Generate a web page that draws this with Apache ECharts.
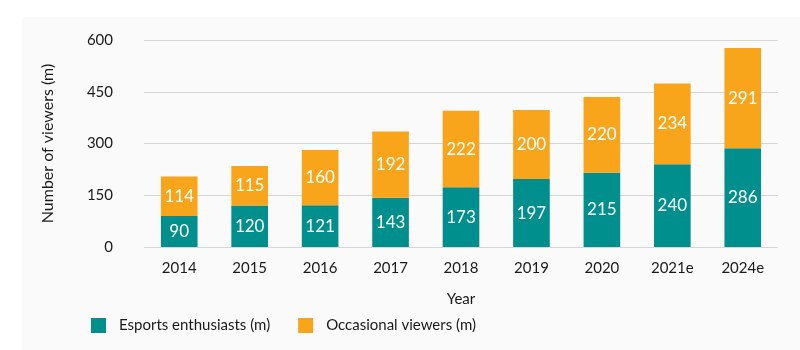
<!DOCTYPE html>
<html>
<head>
<meta charset="utf-8">
<script src="https://cdn.jsdelivr.net/npm/echarts@6/dist/echarts.min.js"></script>
<style>
  html, body { margin: 0; padding: 0; background: #fff; }
  #chart { width: 800px; height: 350px; }
</style>
</head>
<body>
<div id="chart"></div>
<script>
const years = ["2014", "2015", "2016", "2017", "2018", "2019", "2020", "2021e", "2024e"];
const enthusiasts = [90, 120, 121, 143, 173, 197, 215, 240, 286];
const occasional = [114, 115, 160, 192, 222, 200, 220, 234, 291];
const yTicks = [0, 150, 300, 450, 600];

const teal = "#008f8c";
const orange = "#f9a51b";
const font = "Lato";
const ink = "#1a1a1a";

const chart = echarts.init(document.getElementById("chart"), null, { renderer: "canvas" });

const barLabel = {
  show: true,
  position: "inside",
  color: "#fff",
  fontSize: 17,
  fontFamily: font
};

chart.setOption({
  animation: false,
  textStyle: { fontFamily: font },
  graphic: [{
    type: "rect",
    z: -10,
    shape: { x: 22, y: 17, width: 778, height: 333 },
    style: { fill: "#fafafa" }
  }],
  grid: { left: 144, right: 22, top: 40, bottom: 103 },
  legend: {
    left: 86,
    top: 313,
    itemWidth: 15,
    itemHeight: 15,
    itemGap: 28,
    icon: "rect",
    textStyle: { fontSize: 15, color: ink, fontFamily: font, padding: [0, 0, 0, 8] },
    data: ["Esports enthusiasts (m)", "Occasional viewers (m)"]
  },
  xAxis: {
    type: "category",
    data: years,
    name: "Year",
    nameLocation: "middle",
    nameGap: 45,
    nameTextStyle: { fontSize: 15, color: ink, fontFamily: font },
    axisLine: { show: false },
    axisTick: { show: false },
    axisLabel: { fontSize: 15, color: ink, margin: 14, fontFamily: font }
  },
  yAxis: {
    type: "value",
    min: yTicks[0],
    max: yTicks[yTicks.length - 1],
    interval: 150,
    name: "Number of viewers (m)",
    nameLocation: "middle",
    nameGap: 88,
    nameTextStyle: { fontSize: 16, color: ink, fontFamily: font },
    axisLabel: { fontSize: 15, color: ink, margin: 31, fontFamily: font },
    splitLine: { lineStyle: { color: "#d6d6d6", width: 1 } }
  },
  series: [
    {
      name: "Esports enthusiasts (m)",
      type: "bar",
      stack: "viewers",
      data: enthusiasts,
      barWidth: "52%",
      itemStyle: { color: teal },
      label: barLabel
    },
    {
      name: "Occasional viewers (m)",
      type: "bar",
      stack: "viewers",
      data: occasional,
      barWidth: "52%",
      itemStyle: { color: orange },
      label: barLabel
    }
  ]
});
</script>
</body>
</html>
